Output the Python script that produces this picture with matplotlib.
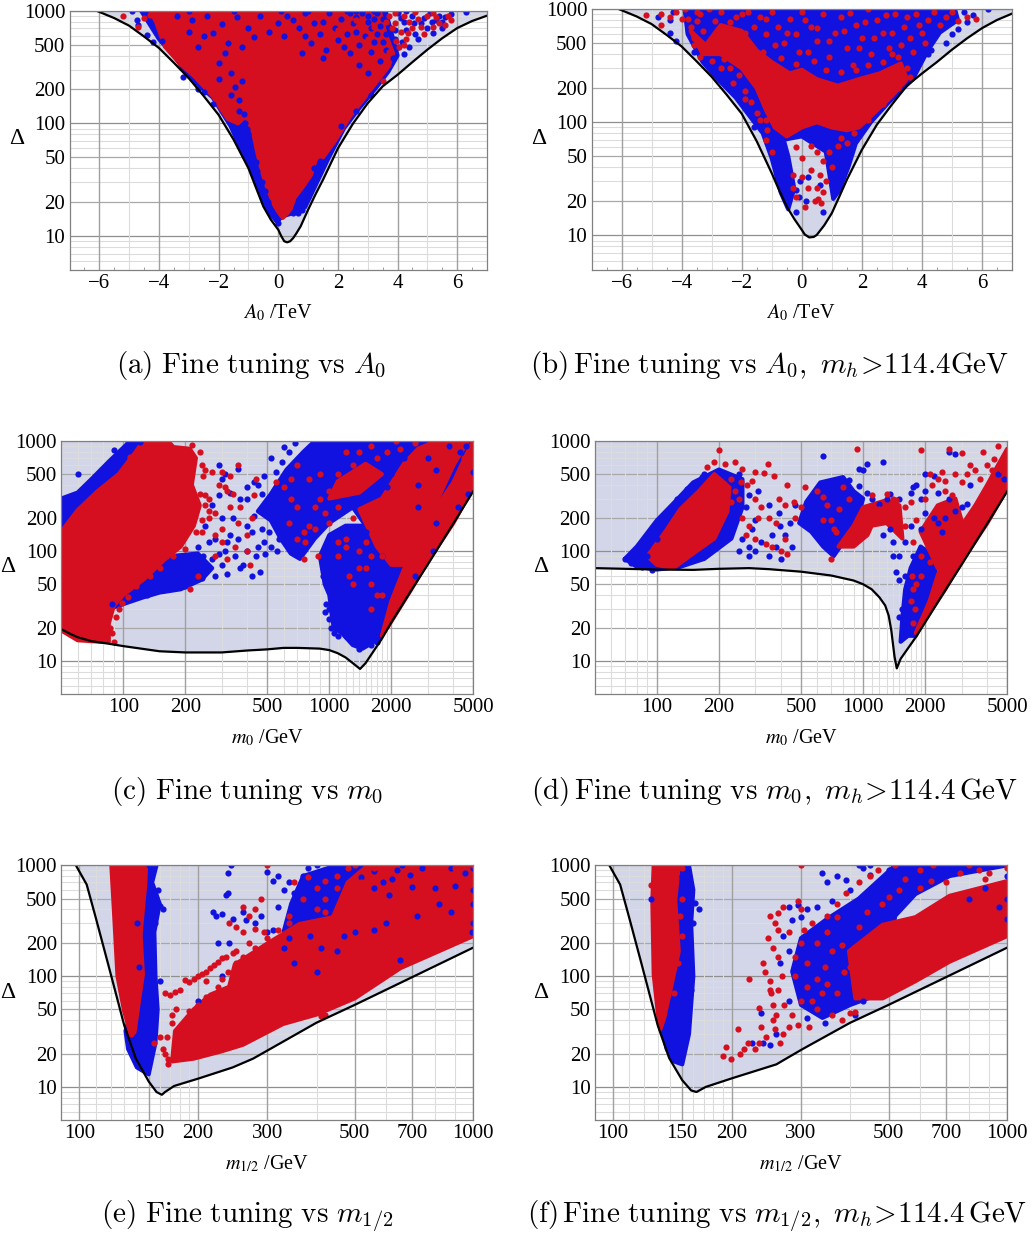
import numpy as np
import matplotlib
matplotlib.use("Agg")
import matplotlib.pyplot as plt

W, H = 1032, 1242
BLEU = "#1212e0"
ROUGE = "#d50f20"
LAVANDE = "#d3d6e8"

plt.rcParams['font.family'] = ['Liberation Serif', 'DejaVu Serif']

# Ticks and labels
a0_ticks = [-6, -4, -2, 0, 2, 4, 6]
a0_labels = ["\u22126", "\u22124", "\u22122", "0", "2", "4", "6"]
a0_grid = [-5, -3, -1, 1, 3, 5]
a0_minor = [-6.5, -5.5, -4.5, -3.5, -2.5, -1.5, -0.5, 0.5, 1.5, 2.5, 3.5, 4.5, 5.5, 6.5]
m0_ticks = [100, 200, 500, 1000, 2000, 5000]
m0_grid = [60, 70, 80, 90, 300, 400, 600, 700, 800, 900, 1100, 1200, 1300, 1400, 1500, 1600, 1700, 1800, 1900, 3000, 4000]
m12_ticks = [100, 150, 200, 300, 500, 700, 1000]
m12_grid = [110, 120, 130, 140, 160, 170, 180, 190, 400, 600, 800, 900]
delta_ticks = [10, 20, 50, 100, 200, 500, 1000]
delta_grid = [6, 7, 8, 9, 30, 40, 60, 70, 80, 90, 300, 400, 600, 700, 800, 900]

# Lower bound of the fine tuning (black curves)
a_courbe = [[-6.1, 1000], [-5.5, 860], [-5, 736], [-4.5, 590], [-4, 467], [-3.5, 345], [-3, 252], [-2.5, 175], [-2, 119], [-1.5, 72], [-1, 40], [-0.75, 27], [-0.5, 18.3], [-0.25, 14], [0, 11.4], [0.1, 10], [0.2, 9], [0.3, 8.8], [0.4, 9], [0.5, 9.6], [0.6, 10.5], [0.75, 12.2], [1, 17.1], [1.25, 23.5], [1.5, 31.6], [2, 60], [2.5, 99], [3, 151], [3.5, 213], [4, 270], [4.5, 350], [5, 451], [5.5, 570], [6, 701], [6.5, 810], [7, 903]]
b_courbe = [[-6.1, 1000], [-5.5, 860], [-5, 736], [-4.5, 590], [-4, 467], [-3.5, 345], [-3, 252], [-2.5, 175], [-2, 119], [-1.5, 68], [-1, 35.5], [-0.75, 25], [-0.5, 18], [-0.25, 14], [0, 11.2], [0.1, 10.2], [0.25, 9.6], [0.4, 9.7], [0.5, 10.1], [0.75, 12.3], [1, 15.7], [1.25, 22], [1.5, 31], [2, 57], [2.5, 95], [3, 143], [3.5, 210], [4, 269], [4.5, 340], [5, 437], [5.5, 550], [6, 677], [6.5, 800], [7, 910]]
c_courbe = [[50, 19.5], [55, 17.8], [60, 16.5], [70, 15.2], [85, 14.4], [100, 13.7], [150, 12.3], [200, 12], [300, 12], [400, 12.5], [500, 12.8], [600, 13.2], [700, 13.2], [900, 13], [1000, 12.6], [1100, 11.8], [1200, 10.8], [1300, 9.6], [1410, 8.5], [1500, 9.6], [1800, 16], [2000, 22.5], [2500, 44], [3000, 75], [4000, 178], [5000, 350]]
d_courbe = [[50, 70], [70, 69], [100, 68], [150, 67.5], [200, 69], [280, 70], [350, 68.5], [500, 65], [700, 60], [900, 54], [1000, 50], [1100, 45], [1200, 38], [1280, 32], [1330, 26], [1370, 19], [1420, 11], [1456, 8.6], [1520, 10.5], [1800, 16.5], [2000, 22.5], [2500, 44], [3000, 75], [4000, 178], [5000, 350]]
e_courbe = [[98, 1000], [104.4, 670], [110, 340], [119, 119], [130, 36], [139, 18.2], [150, 11.2], [157, 9], [162, 8.5], [165, 9], [174, 10.2], [202, 12], [245, 15], [276, 18], [298, 21], [400, 38], [500, 55], [700, 98], [1000, 181]]
f_courbe = [[98, 1000], [104.4, 670], [110, 340], [119, 119], [130, 36], [139, 18.2], [150, 11.5], [158, 9.3], [163, 9], [172, 10], [201, 12], [260, 16], [275, 18], [303, 22], [400, 38], [500, 55], [700, 98], [1000, 181]]

# Dense regions read as outlines
a_dense_bleu = [[[-4.6, 1000], [-4.0, 560], [-3.5, 400], [-3.0, 260], [-2.2, 170], [-1.6, 95], [-1.2, 55], [-0.9, 38], [-0.6, 24], [-0.3, 16], [-0.05, 13.5], [0.15, 15], [0.5, 16], [0.9, 18], [1.3, 30], [1.7, 50], [2.2, 90], [2.7, 135], [3.3, 210], [3.7, 290], [4.0, 400], [3.6, 1000]]]
a_dense_rouge = [[[-4.3, 1000], [-4.1, 800], [-3.8, 480], [-3.3, 340], [-2.8, 260], [-2.2, 175], [-1.7, 110], [-1.35, 100], [-1.1, 115], [-0.85, 85], [-0.7, 55], [-0.55, 38], [-0.35, 26], [-0.1, 18], [0.15, 14.5], [0.4, 17], [0.55, 22], [0.85, 28], [1.1, 35], [1.25, 47], [1.5, 50], [1.9, 70], [2.4, 115], [2.9, 170], [3.3, 235], [3.7, 320], [3.85, 420], [3.6, 620], [3.4, 1000]]]
b_dense_bleu = [[[-3.9, 1000], [-3.8, 600], [-3.3, 340], [-2.8, 240], [-2.2, 165], [-1.7, 110], [-1.3, 80], [-1.0, 48], [-0.7, 24], [-0.45, 17], [-0.25, 26], [-0.45, 50], [-0.6, 70], [0.0, 75], [0.8, 55], [1.05, 21], [1.25, 25], [1.55, 40], [1.8, 65], [2.3, 100], [2.9, 150], [3.7, 240], [4.2, 430], [4.6, 620], [5.2, 800], [5.1, 1000]]]
b_dense_rouge = [[[-3.7, 640], [-3.2, 480], [-2.7, 720], [-2.0, 640], [-1.5, 430], [-1.0, 340], [-0.4, 270], [0, 290], [0.5, 240], [1.2, 210], [1.9, 240], [2.6, 270], [3.3, 330], [3.5, 240], [3.0, 170], [2.4, 120], [1.9, 90], [1.5, 85], [1.0, 90], [0.5, 100], [0, 90], [-0.5, 75], [-0.9, 90], [-1.2, 130], [-1.5, 200], [-2, 300], [-2.7, 400], [-3.3, 400]]]
c_dense_bleu = [[[50, 300], [60, 340], [70, 450], [85, 650], [105, 950], [115, 1000], [125, 1000], [100, 600], [80, 350], [60, 200], [50, 130]],
                [[86, 30], [100, 33], [125, 38], [150, 42], [190, 45], [240, 55], [270, 70], [230, 95], [170, 90], [120, 60]],
                [[450, 230], [520, 330], [620, 550], [750, 800], [850, 1000], [5000, 1000], [5000, 400], [4000, 190], [3000, 85], [2500, 48], [2100, 35], [1800, 110], [1500, 170], [1300, 250], [1000, 180], [850, 130], [720, 85], [650, 95], [580, 130], [520, 190]],
                [[900, 90], [950, 50], [1000, 40], [1050, 20], [1150, 18], [1300, 14], [1450, 13], [1750, 16], [2050, 28], [2200, 38], [2000, 70], [1800, 110], [1500, 170], [1200, 170], [1000, 140]]]
c_dense_rouge = [[[50, 150], [60, 235], [75, 350], [95, 500], [115, 800], [125, 1000], [165, 1000], [175, 880], [210, 850], [225, 700], [215, 400], [235, 260], [220, 170], [190, 110], [160, 85], [125, 55], [100, 40], [90, 32], [85, 22], [85, 15], [78, 15], [60, 15.5], [50, 19]],
                 [[1800, 17], [2000, 23], [2500, 45], [3000, 80], [4000, 180], [5000, 380], [5000, 1000], [4700, 800], [4000, 420], [3000, 190], [2500, 100], [2200, 55], [2000, 35]],
                 [[1700, 110], [2000, 75], [2400, 75], [2800, 140], [3500, 350], [4000, 600], [4700, 1000], [3300, 1000], [2700, 850], [2300, 620], [1800, 300], [1400, 240]],
                 [[1000, 300], [1400, 340], [1800, 500], [1500, 620], [1100, 430]]]
d_dense_bleu = [[[70, 85], [80, 110], [100, 190], [120, 270], [150, 420], [200, 550], [260, 450], [260, 250], [230, 130], [170, 85], [130, 72], [100, 68], [80, 72]],
                [[490, 180], [530, 280], [620, 420], [800, 470], [900, 350], [1000, 300], [950, 210], [800, 120], [720, 90], [640, 110], [560, 150]],
                [[1520, 15], [1650, 17], [1800, 17], [2100, 30], [2300, 45], [2200, 90], [1900, 110], [1700, 70], [1600, 45], [1550, 25]]]
d_dense_rouge = [[[90, 90], [110, 150], [130, 240], [160, 350], [190, 500], [225, 380], [220, 230], [190, 130], [150, 95], [120, 70], [100, 75]],
                 [[760, 110], [900, 170], [1000, 250], [1300, 290], [1500, 260], [1550, 130], [1300, 180], [1100, 170], [1050, 140], [900, 110]],
                 [[1800, 18], [2000, 24], [2500, 45], [3000, 80], [4000, 180], [5000, 370], [5000, 850], [4500, 600], [4000, 400], [3500, 260], [3000, 170], [2500, 90], [2300, 60], [2100, 35]],
                 [[1900, 150], [2300, 70], [2600, 110], [3000, 190], [2800, 300], [2300, 260]]]
e_dense_bleu = [[[147, 1000], [157, 1000], [153, 700], [160, 450], [155, 250], [156, 100], [158, 50], [156, 25], [150, 13], [140, 15], [133, 22], [131, 32], [137, 55], [143, 100], [146, 200]],
                [[330, 250], [345, 450], [370, 800], [450, 1000], [600, 1000], [480, 400], [440, 280]]]
e_dense_rouge = [[[120.6, 1000], [147.7, 1000], [147, 680], [143, 238], [145, 104], [142, 63], [138, 31], [135, 30], [130, 48], [125, 100], [122.7, 338]],
                 [[1000, 230], [653, 118], [500, 63], [400, 45], [329, 37], [260, 24], [230, 21], [195, 18], [172, 17], [175, 32], [195, 50], [215, 68], [240, 80], [248, 127], [298, 194], [362, 295], [440, 340], [535, 480], [653, 550], [790, 780], [1000, 900]],
                 [[440, 340], [480, 700], [540, 1000], [1000, 1000], [1000, 850], [790, 760], [653, 530], [535, 460]]]
f_dense_bleu = [[[147, 1000], [156, 1000], [160, 600], [158, 300], [160, 100], [156, 30], [150, 16], [143, 17], [137, 22], [133, 35], [137, 50], [143, 90], [147, 170]],
                [[300, 220], [285, 110], [300, 55], [340, 42], [400, 55], [480, 70], [520, 350], [585, 550], [714, 800], [1000, 1000], [520, 1000], [420, 500], [350, 330]]]
f_dense_rouge = [[[127, 1000], [147, 1000], [144, 480], [147, 167], [141, 84], [135, 42], [132, 33], [130, 48], [127, 104], [126, 480]],
                 [[1000, 230], [714, 135], [585, 90], [483, 63], [412, 63], [397, 168], [483, 290], [585, 340], [714, 530], [1000, 720]]]

# Scattered points
a_bleu = [[-4.9, 1000], [-4.75, 830], [-4.7, 740], [-4.4, 612], [-4.2, 530], [-3.9, 540], [-3.2, 260], [-2.7, 200], [-2.5, 190], [-2.2, 150], [-1.05, 90], [-1, 80], [-1.05, 70], [-0.95, 60], [-0.9, 50], [-0.75, 45], [-0.7, 38], [-0.55, 30], [-0.45, 25], [-0.35, 20], [-0.25, 17], [-0.05, 14], [0, 13], [0.5, 16], [0.65, 16], [0.8, 17], [0.85, 20], [1, 22], [1.05, 26], [1.15, 30], [1.3, 35], [1.35, 42], [1.4, 46], [-3, 650], [-2.7, 480], [-2.2, 640], [-1.8, 420], [-1, 700], [-0.8, 580], [0, 780], [0.5, 820], [0.9, 600], [1.5, 800], [2, 550], [2.4, 420], [2.6, 650], [3, 900], [3.2, 530], [3.4, 360], [3.6, 450], [-3, 1000], [-1.5, 1000], [0.1, 1000], [1, 1000], [2.3, 1000], [2.6, 1000], [3.2, 1000], [4, 1000], [4.3, 1000], [2.4, 950], [2.6, 880], [3, 800], [3.1, 700], [3.3, 950], [3.5, 850], [3.7, 720], [3.9, 560], [4, 480], [4.2, 410], [3.85, 380], [4, 950], [4.2, 800], [4.5, 900], [4.6, 620], [4.8, 780], [5, 700], [5.1, 950], [5.3, 830], [5.4, 900], [5.6, 880], [5.8, 940], [6.3, 980], [4.4, 480], [4.7, 560], [5.2, 640], [5.5, 700], [-2, 250], [-1.6, 180], [-1.3, 130], [2.1, 95], [2.6, 130], [3.1, 180],
          [-3.4, 900], [-2.9, 820], [-2.5, 600], [-2.4, 900], [-1.9, 760], [-1.7, 520], [-1.4, 880], [-1.2, 480], [-0.6, 900], [-0.3, 650], [0.2, 600], [0.3, 900], [0.7, 700], [0.9, 950], [1.1, 520], [1.2, 780], [1.4, 620], [1.6, 450], [1.7, 950], [1.9, 700], [2.1, 850], [2.2, 480], [2.3, 620], [2.5, 780], [2.7, 500], [2.8, 950], [2.9, 600], [3.1, 430], [3.2, 840], [3.3, 620], [3.4, 730], [3.5, 530], [3.6, 620], [-2.0, 340], [-1.6, 280], [-1.45, 210], [-1.3, 160], [-1.15, 120], [-1.1, 100], [-1.2, 240], [1.5, 380], [0.8, 420], [2.7, 330], [3.0, 280], [4.15, 530], [4.3, 680], [4.55, 770], [4.9, 860], [5.15, 790], [5.5, 800], [4.1, 860], [3.9, 680], [-1.15, 85], [-1.0, 62], [-0.85, 42], [-0.6, 26], [1.2, 40], [0.95, 25]]
a_rouge = [[3.7, 900], [3.9, 780], [4.1, 650], [4.3, 560], [4.2, 900], [4.5, 700], [4.7, 850], [4.9, 620], [5, 900], [5.2, 720], [5.4, 780], [5.6, 750], [5.8, 820], [5.7, 900], [5.2, 960], [4.6, 970], [4.05, 480], [3.7, 430], [3.5, 240], [3.8, 700], [-5.2, 890], [-4.7, 720], [-4.5, 870], [-4.3, 920],
           [3.2, 720], [3.0, 560], [2.6, 830], [2.0, 680], [1.3, 900], [0.6, 640], [-0.5, 780], [3.6, 800], [3.9, 950], [4.4, 800], [4.8, 720], [5.3, 880], [3.95, 540], [4.2, 500], [4.35, 640], [2.3, 780], [1.7, 560], [1.0, 740]]
b_bleu = [[-4.8, 850], [-4.4, 620], [-4.2, 520], [-3.6, 420], [6.2, 1000], [5.7, 880], [5.2, 660], [5, 600], [4.8, 500], [4.3, 430], [4.2, 400], [5.4, 950], [5.5, 760], [-4.3, 950], [-4.4, 800], [-0.5, 40], [-0.2, 25], [-0.05, 30], [0.2, 33], [-0.1, 22], [0.15, 20], [-0.2, 16], [0.7, 16], [0.6, 28], [-1.6, 90], [-1.8, 130]]
b_rouge = [[-5.2, 890], [-4.7, 900], [-4.7, 720], [-4.4, 850], [-4.2, 950], [-4, 820], [-3.9, 1000], [-3.7, 700], [-3.6, 560], [-3.4, 900], [-3.3, 640], [-3.2, 470], [-3.1, 1000], [-3, 420], [-2.9, 780], [-2.7, 950], [-2.6, 360], [-2.4, 300], [-2.2, 850], [-2.1, 260], [-1.9, 190], [-1.8, 950], [-1.7, 150], [-1.5, 120], [-1.4, 850], [-1.2, 600], [-1.2, 105], [-1, 950], [-0.8, 700], [-0.6, 500], [-0.4, 820], [-0.2, 600], [0, 950], [0.2, 420], [0.3, 700], [0.5, 520], [0.7, 900], [0.9, 380], [1.1, 620], [1.3, 850], [1.5, 450], [1.7, 320], [1.8, 720], [2, 560], [2.2, 1000], [2.3, 400], [2.5, 800], [2.7, 620], [2.9, 450], [3.1, 900], [3.2, 380], [3.4, 700], [3.6, 560], [3.8, 900], [4, 620], [4.2, 800], [4.4, 950], [4.6, 720], [4.8, 850], [5, 950], [5.2, 780], [5.5, 850], [5.8, 820], [-0.2, 60], [0, 48], [0.3, 62], [0.5, 55], [0.7, 45], [0.9, 55], [1.2, 62], [-0.3, 34], [0, 33], [0.3, 38], [0.6, 34], [0.8, 30], [1, 40], [0.2, 26], [0.5, 26], [0.7, 24], [0.55, 21], [0.45, 20], [0.65, 19.5], [0.1, 18], [-0.3, 26], [-0.2, 22], [1.5, 65], [-1.2, 70], [-1, 55],
           [-3.5, 950], [-2.4, 760], [-2.0, 900], [-1.6, 700], [-1.2, 820], [-0.9, 480], [-0.5, 620], [-0.1, 420], [0.1, 800], [0.5, 680], [0.9, 520], [1.4, 640], [1.6, 920], [1.9, 450], [2.1, 760], [2.4, 560], [2.8, 880], [3, 620], [3.3, 480], [3.5, 850], [3.7, 420], [3.9, 720], [4.1, 500], [-1.9, 620], [-1.3, 420], [-0.7, 370], [-0.2, 330], [0.4, 350], [0.8, 290], [1.3, 280], [1.8, 290], [2.2, 320], [2.7, 340], [3.0, 400], [3.5, 300], [3.6, 250], [3.2, 200], [2.7, 145], [2.2, 105], [1.75, 80], [1.3, 72], [-1.9, 160], [-2.3, 220], [-1.4, 105], [-1.15, 85], [-2.7, 300], [-3.0, 350], [-3.4, 380], [-3.6, 480], [-3.8, 820], [-3.5, 780], [-2.9, 600]]
c_bleu = [[60, 500], [90, 830], [120, 980], [105, 1000], [250, 170], [280, 130], [300, 200], [260, 120], [230, 110], [320, 120], [350, 90], [300, 75], [280, 60], [250, 65], [220, 58], [320, 62], [370, 70], [420, 60], [460, 65], [400, 100], [450, 110], [420, 150], [480, 120], [520, 110], [560, 100], [470, 160], [430, 210], [400, 300], [340, 200], [290, 320], [310, 500], [400, 380], [450, 400], [520, 700], [480, 480], [570, 130], [1500, 150], [1800, 90], [1050, 25], [1100, 28], [1000, 30], [950, 28], [1300, 15], [1400, 13], [1600, 14], [1050, 18], [1250, 20], [2600, 60], [3200, 100], [4200, 250], [4700, 330], [5000, 520], [2300, 700], [2000, 500],
          [88, 33], [105, 36], [130, 40], [155, 44], [175, 46], [200, 48], [240, 57], [190, 52], [165, 60], [210, 70], [245, 90], [270, 85], [290, 95], [310, 100], [330, 140], [360, 130], [380, 75], [400, 170], [440, 90], [490, 95], [510, 150], [540, 240], [500, 260], [470, 330], [430, 420], [370, 300], [330, 340], [270, 260], [300, 450], [360, 560], [290, 600], [550, 520], [590, 640], [640, 800], [600, 880], [680, 950], [930, 60], [960, 33], [1000, 24], [1020, 20], [1100, 17], [1150, 22], [1200, 17], [1350, 14.5], [1450, 14], [1700, 15], [1800, 1000], [2400, 900], [3000, 700], [3800, 900], [4300, 800], [4600, 900], [1900, 380], [2700, 400], [3300, 550], [2700, 250], [3300, 180]]
c_rouge = [[250, 550], [300, 520], [330, 480], [360, 600], [290, 400], [320, 350], [260, 300], [280, 220], [330, 250], [360, 180], [300, 160], [260, 200], [240, 150], [250, 320], [350, 110], [400, 140], [410, 75], [420, 200], [430, 320], [440, 450], [210, 45], [230, 60], [280, 90], [320, 85], [550, 420], [600, 380], [650, 300], [700, 250], [640, 180], [700, 130], [760, 120], [800, 170], [850, 250], [900, 300], [950, 220], [1000, 350], [1100, 500], [1200, 400], [1100, 250], [1300, 600], [1400, 800], [1500, 500], [1600, 900], [1700, 700], [1200, 800], [1400, 100], [1500, 70], [1600, 50], [1700, 40], [1800, 90], [1300, 50], [1600, 30], [2100, 1000], [2600, 950], [3100, 800], [3600, 850], [1100, 120], [1200, 130], [880, 90], [750, 85],
           [240, 600], [245, 480], [235, 330], [250, 260], [260, 230], [240, 190], [225, 150], [200, 105], [175, 90], [150, 70], [135, 60], [115, 48], [105, 38], [90, 15], [88, 18], [86, 20], [92, 25], [95, 30], [98, 34], [130, 1000], [108, 720], [235, 800], [215, 920], [270, 520], [310, 380], [340, 330], [280, 140], [300, 120], [370, 250], [400, 100], [1900, 800], [2200, 850], [2500, 700], [2800, 800], [3300, 950], [3800, 700], [4200, 900], [4500, 700], [1300, 200], [1500, 120], [1700, 240], [1950, 180], [2100, 150], [1400, 70], [1600, 90], [1100, 90], [1000, 180], [850, 160], [750, 150], [1800, 40], [1200, 110], [1250, 60], [900, 500], [700, 600], [800, 450], [650, 450], [2400, 600], [3000, 400]]
d_bleu = [[70, 85], [75, 78], [85, 72], [95, 67], [90, 110], [100, 130], [640, 730], [1050, 620], [1250, 650], [1000, 540], [2600, 800], [2800, 760], [950, 560], [260, 130], [280, 110], [300, 100], [350, 90], [380, 110], [420, 140], [450, 110], [400, 85], [300, 190], [350, 260], [390, 220], [440, 180], [470, 260], [280, 320], [310, 350], [250, 500], [1300, 300], [1600, 120], [1500, 90], [1450, 65], [1400, 90], [1800, 400], [2000, 500], [1900, 300], [2200, 200], [2400, 150], [3000, 250], [2600, 300], [3300, 400], [4500, 500], [4800, 450], [1550, 30], [1500, 25], [1580, 18],
          [90, 90], [80, 95], [110, 210], [125, 300], [140, 370], [170, 500], [165, 470], [230, 420], [270, 250], [290, 160], [320, 120], [360, 140], [395, 170], [280, 90], [250, 100], [850, 440], [950, 390], [1050, 340], [1100, 300], [1200, 270], [1350, 330], [1500, 300], [1700, 340], [1750, 380], [2000, 350], [2200, 480], [1700, 170], [1900, 160], [2000, 220], [2300, 180], [1600, 60], [1500, 55], [1750, 90], [2300, 340], [2500, 200], [2800, 230], [3200, 270], [1400, 120], [1350, 160], [1250, 140]]
d_rouge = [[200, 820], [190, 650], [215, 620], [240, 640], [260, 560], [300, 520], [330, 510], [345, 620], [370, 480], [275, 400], [300, 300], [320, 250], [350, 200], [380, 180], [250, 300], [260, 200], [270, 140], [300, 130], [340, 115], [400, 100], [430, 95], [420, 130], [430, 400], [460, 280], [500, 250], [520, 380], [600, 350], [640, 310], [700, 190], [740, 150], [700, 85], [930, 840], [1100, 320], [1200, 240], [1400, 300], [1600, 250], [1900, 820], [2100, 500], [2300, 450], [2600, 850], [2800, 500], [3000, 780], [3300, 600], [3800, 800], [4500, 900], [4200, 550], [2500, 350], [2600, 220], [2200, 130], [1800, 190], [1700, 35], [1800, 50], [1900, 60], [1750, 22],
           [175, 580], [230, 450], [240, 350], [230, 280], [290, 430], [255, 420], [310, 200], [360, 110], [280, 170], [390, 300], [420, 260], [470, 200], [640, 190], [670, 260], [760, 240], [850, 300], [800, 380], [720, 160], [1300, 330], [1450, 290], [1700, 280], [2000, 300], [2150, 400], [2400, 520], [2500, 430], [2700, 320], [3000, 420], [3200, 500], [3500, 550], [3700, 450], [4000, 600], [4300, 680], [4700, 550], [4800, 700], [1600, 170], [1750, 120], [1900, 90], [2100, 80], [1750, 45], [1720, 60], [1780, 30]]
e_bleu = [[150, 1000], [155, 1000], [160, 430], [163, 400], [158, 600], [156, 300], [153, 80], [148, 75], [238, 850], [243, 1000], [238, 560], [235, 545], [230, 360], [218, 380], [222, 350], [225, 200], [240, 200], [245, 330], [260, 380], [265, 320], [280, 300], [300, 870], [310, 720], [320, 800], [330, 600], [340, 700], [350, 560], [370, 800], [380, 950], [400, 1000], [420, 900], [1000, 600], [1000, 450], [900, 650], [800, 620], [330, 180], [350, 130], [400, 110], [450, 170], [500, 250], [600, 300], [650, 140], [230, 100],
          [290, 350], [310, 260], [320, 420], [340, 220], [300, 250], [385, 230], [410, 180], [470, 230], [560, 260], [720, 350], [820, 450], [880, 380], [950, 850], [1000, 950], [1000, 300], [990, 250], [150, 30], [160, 90], [142, 120], [140, 300], [200, 60],
          [560, 620], [590, 700], [620, 760], [560, 880], [640, 900], [690, 820], [740, 950], [700, 640], [520, 780], [880, 940], [610, 540], [660, 1000]]
e_rouge = [[300, 1000], [270, 350], [260, 420], [250, 280], [240, 300], [280, 400], [290, 500], [295, 250], [340, 350], [370, 500], [400, 620], [420, 500], [350, 700], [450, 800], [480, 950], [500, 1000], [600, 900], [800, 1000], [900, 950], [1000, 1000], [165, 70], [170, 68], [175, 72], [180, 75], [190, 88], [200, 100], [210, 110], [220, 125], [230, 145], [245, 160], [172, 38], [180, 28], [185, 35], [190, 48], [200, 55], [210, 65], [225, 80], [155, 25], [160, 28], [163, 22], [168, 18], [135, 30], [410, 44], [420, 45],
           [168, 16], [165, 20], [167, 28], [172, 45], [176, 50], [185, 92], [195, 95], [205, 105], [215, 118], [225, 135], [235, 150], [250, 170], [260, 150], [270, 200], [280, 180], [300, 220], [320, 260], [340, 300], [280, 265], [260, 250], [400, 400], [420, 380], [460, 460], [500, 560], [520, 700], [380, 780], [420, 720], [450, 620], [560, 950], [700, 1000], [720, 700], [800, 880], [900, 800], [580, 450], [660, 600], [210, 90], [230, 95], [238, 110], [248, 100], [250, 130]]
f_bleu = [[125, 500], [150, 800], [155, 700], [158, 480], [162, 460], [165, 400], [160, 300], [155, 220], [158, 75], [156, 70], [237, 46], [225, 25], [240, 25], [250, 24], [260, 30], [340, 850], [370, 800], [390, 730], [420, 1000], [430, 950], [450, 1000], [280, 420], [295, 440], [310, 400], [350, 700],
          [270, 230], [280, 170], [265, 130], [285, 320], [300, 340], [330, 420], [360, 480], [400, 600], [450, 820], [500, 900], [560, 1000], [650, 950], [300, 90], [280, 60], [310, 42], [345, 38], [410, 45], [430, 60], [1000, 330], [1000, 500], [950, 420], [880, 620], [800, 500], [750, 900], [1000, 800], [550, 700]]
f_rouge = [[125, 660], [300, 1000], [295, 480], [300, 400], [270, 420], [262, 370], [250, 350], [248, 220], [240, 130], [243, 110], [222, 95], [250, 90], [252, 70], [255, 55], [250, 75], [235, 52], [255, 40], [238, 35], [258, 33], [208, 33], [190, 19], [194, 23], [199, 18], [210, 20], [215, 22], [220, 25], [230, 22], [235, 25], [245, 28], [265, 25], [270, 30], [280, 35], [300, 60], [290, 100], [310, 130], [330, 200], [320, 60], [350, 85], [360, 45], [380, 40], [400, 46], [410, 47], [360, 170], [400, 120], [420, 90], [300, 200], [280, 250], [320, 300], [350, 350], [370, 450], [390, 560], [420, 700], [450, 800], [470, 900], [520, 1000], [600, 900], [550, 750], [650, 1000], [800, 1000], [850, 900], [1000, 950], [900, 850], [1000, 1000], [700, 700],
           [258, 300], [262, 260], [255, 180], [262, 150], [268, 100], [262, 75], [272, 55], [260, 45], [285, 45], [295, 36], [315, 35], [330, 50], [340, 70], [345, 120], [330, 95], [370, 70], [385, 110], [410, 150], [430, 200], [450, 170], [460, 100], [430, 75], [380, 190], [350, 250], [305, 260], [290, 150], [310, 80], [370, 340], [420, 280], [440, 380], [480, 450], [500, 520], [530, 600], [600, 620], [640, 720], [760, 850], [880, 760], [135, 900], [150, 500], [148, 350], [150, 230], [146, 130], [143, 70], [145, 850], [150, 950]]


def panneau(rect, xlim, echelle, courbe, bleu_zones, rouge_zones, bleu, rouge, xt, xl, xg, xm):
    """Draw one panel from its pixel rectangle (left, top, right, bottom)."""
    g, h, d, b = rect
    ax = fig.add_axes([g / W, 1 - b / H, (d - g) / W, (b - h) / H])
    ax.set_xscale(echelle)
    ax.set_yscale("log")
    courbe = np.array(courbe)
    ax.fill_between(courbe[:, 0], courbe[:, 1], 1000, color=LAVANDE, lw=0, zorder=1)
    for v in delta_grid:
        ax.axhline(v, color="#dcdcdc", lw=0.8, zorder=2)
    for v in delta_ticks:
        ax.axhline(v, color="#8f8f8f" if v in (10, 100) else "#a8a8a8", lw=0.9, zorder=2)
    for v in xg:
        ax.axvline(v, color="#dcdcdc", lw=0.8, zorder=2)
    for v in xt:
        ax.axvline(v, color="#a0a0a0", lw=1.0, zorder=2)
    for zone in bleu_zones:
        zone = np.array(zone)
        ax.fill(zone[:, 0], zone[:, 1], color=BLEU, lw=3, joinstyle="round", zorder=3)
    for zone in rouge_zones:
        zone = np.array(zone)
        ax.fill(zone[:, 0], zone[:, 1], color=ROUGE, lw=3, joinstyle="round", zorder=4)
    bleu = np.array(bleu)
    rouge = np.array(rouge)
    ax.scatter(bleu[:, 0], bleu[:, 1], s=20, color=BLEU, lw=0, zorder=5)
    ax.scatter(rouge[:, 0], rouge[:, 1], s=20, color=ROUGE, lw=0, zorder=6)
    ax.plot(courbe[:, 0], courbe[:, 1], color="black", lw=1.6, zorder=7)
    ax.set_xlim(xlim)
    ax.set_ylim(5, 1000)
    ax.set_xticks(xt)
    ax.set_xticklabels(xl, fontsize=15)
    ax.set_xticks(xm, minor=True)
    ax.set_xticklabels([], minor=True)
    ax.set_yticks(delta_ticks)
    ax.set_yticklabels([str(v) for v in delta_ticks], fontsize=15)
    ax.set_yticks(delta_grid, minor=True)
    ax.set_yticklabels([], minor=True)
    ax.tick_params(which="major", direction="in", length=4, width=0.7, color="#777777", pad=3)
    ax.tick_params(which="minor", direction="in", length=2, width=0.5, color="#777777")
    for s in ax.spines.values():
        s.set_color("#808080")
        s.set_linewidth(0.9)
        s.set_zorder(8)
    return ax


def texte(x, y, s, **kw):
    fig.text(x / W, 1 - y / H, s, ha="center", va="center", **kw)


fig = plt.figure(figsize=(W / 100, H / 100), dpi=100)

m0_l = [str(v) for v in m0_ticks]
m12_l = [str(v) for v in m12_ticks]
panneau((69.5, 10.7, 487, 270), (-7, 7), "linear", a_courbe, a_dense_bleu, a_dense_rouge, a_bleu, a_rouge, a0_ticks, a0_labels, a0_grid, a0_minor)
panneau((591.5, 9, 1012, 269.5), (-7, 7), "linear", b_courbe, b_dense_bleu, b_dense_rouge, b_bleu, b_rouge, a0_ticks, a0_labels, a0_grid, a0_minor)
panneau((61.3, 441, 473.3, 694.3), (50, 5000), "log", c_courbe, c_dense_bleu, c_dense_rouge, c_bleu, c_rouge, m0_ticks, m0_l, m0_grid, m0_grid)
panneau((594.7, 441, 1007.3, 694.3), (50, 5000), "log", d_courbe, d_dense_bleu, d_dense_rouge, d_bleu, d_rouge, m0_ticks, m0_l, m0_grid, m0_grid)
panneau((61.3, 865.3, 473.3, 1120.3), (90, 1000), "log", e_courbe, e_dense_bleu, e_dense_rouge, e_bleu, e_rouge, m12_ticks, m12_l, m12_grid, m12_grid)
panneau((594.7, 865.3, 1007.3, 1120.3), (90, 1000), "log", f_courbe, f_dense_bleu, f_dense_rouge, f_bleu, f_rouge, m12_ticks, m12_l, m12_grid, m12_grid)

# Axis labels
for x, y, s in [(278, 313, r"$A_0$ /TeV"), (801, 313, r"$A_0$ /TeV"), (267, 738, r"$m_0$ /GeV"), (801, 738, r"$m_0$ /GeV"), (267, 1164, r"$m_{1/2}$ /GeV"), (801, 1164, r"$m_{1/2}$ /GeV")]:
    texte(x, y, s, fontsize=14.5, math_fontfamily="stix")
for x, y in [(17, 138), (539, 138), (8, 567), (541, 567), (8, 992), (541, 992)]:
    texte(x, y, "\u0394", fontsize=17)

# Captions
legendes = [(251, 366, r"$\mathrm{(a)\ Fine\ tuning\ vs\ }A_0$"),
            (770, 366, r"$\mathrm{(b)\,Fine\ tuning\ vs\ }A_0,\ m_h\!>\!114.4\mathrm{GeV}$"),
            (247, 792, r"$\mathrm{(c)\ Fine\ tuning\ vs\ }m_0$"),
            (775, 792, r"$\mathrm{(d)\,Fine\ tuning\ vs\ }m_0,\ m_h\!>\!114.4\,\mathrm{GeV}$"),
            (247, 1217, r"$\mathrm{(e)\ Fine\ tuning\ vs\ }m_{1/2}$"),
            (777, 1217, r"$\mathrm{(f)\,Fine\ tuning\ vs\ }m_{1/2},\ m_h\!>\!114.4\,\mathrm{GeV}$")]
for x, y, s in legendes:
    texte(x, y, s, fontsize=21, math_fontfamily="cm")

fig.savefig("out.png", dpi=100)
